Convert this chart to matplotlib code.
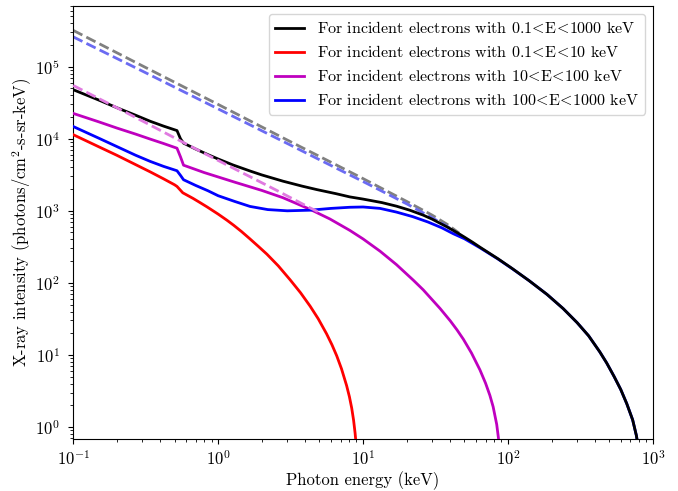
import matplotlib
matplotlib.use("Agg")
import matplotlib.pyplot as plt

# LaTeX-like look
plt.rcParams["font.family"] = ["cmr10", "DejaVu Serif"]
plt.rcParams["mathtext.fontset"] = "cm"
plt.rcParams["axes.formatter.use_mathtext"] = True

# Solid curves: (photon energy keV, intensity)
black_x = [0.1, 0.15, 0.2, 0.27, 0.34, 0.42, 0.52, 0.55, 0.577, 0.7, 0.85, 1.0, 1.27, 1.66,
           2.0, 2.8, 3.8, 4.8, 6.5, 8.1, 10, 13.5, 17, 21, 26, 30, 38, 45, 50, 57,
           64, 85, 107, 140, 186, 240, 300, 360, 430, 480, 540, 600, 660, 725, 770, 800, 815]
black_y = [4.8e4, 3.45e4, 2.7e4, 2.12e4, 1.75e4, 1.5e4, 1.3e4, 1.0e4, 8.7e3, 7.2e3, 6.03e3,
           5.24e3, 4.32e3, 3.57e3, 3.15e3, 2.58e3, 2.2e3, 1.97e3, 1.73e3, 1.56e3, 1.455e3,
           1.3e3, 1.16e3, 1.02e3, 871, 766, 597, 492, 432, 366,
           313, 217, 158, 107, 69, 44, 28, 18.4, 11, 7.7, 5.0, 3.3, 2.1, 1.25, 0.75, 0.45, 0.3]

red_x = [0.1, 0.15, 0.2, 0.27, 0.34, 0.42, 0.5, 0.52, 0.57, 0.67, 0.75, 0.84, 1.0, 1.15,
         1.28, 1.45, 1.65, 1.9, 2.17, 2.6, 3.14, 3.7, 4.31, 4.9, 5.6, 6.1, 6.58, 7.1, 7.7,
         8.05, 8.35, 8.6, 8.81, 8.95, 9.05]
red_y = [1.14e4, 7.75e3, 5.9e3, 4.37e3, 3.47e3, 2.78e3, 2.3e3, 2.18e3, 1.78e3, 1.49e3, 1.3e3,
         1.13e3, 900, 740, 630, 515, 411, 319, 250, 172, 110, 73, 47.5, 31.8, 19.6, 13.8,
         9.7, 6.4, 3.74, 2.62, 1.82, 1.24, 0.82, 0.58, 0.43]

mag_x = [0.1, 0.15, 0.2, 0.27, 0.34, 0.42, 0.52, 0.55, 0.577, 0.8, 1.3, 2.0, 2.8, 4.3,
         5.9, 8.1, 10, 13.1, 17, 22.2, 26, 34, 40, 44.5, 49.2, 56, 64, 70, 75, 79, 83.6,
         86, 87]
mag_y = [2.25e4, 1.72e4, 1.41e4, 1.16e4, 9.9e3, 8.6e3, 7.4e3, 5.6e3, 4.3e3, 3.4e3, 2.5e3,
         1.92e3, 1.52e3, 1.05e3, 771, 535, 407, 275, 179, 109, 80, 44, 29.6, 22.2, 16.5,
         10.6, 6.2, 4.05, 2.74, 1.9, 1.08, 0.69, 0.54]

blue_x = [0.1, 0.15, 0.2, 0.27, 0.34, 0.42, 0.52, 0.55, 0.577, 0.7, 0.85, 1.0, 1.3, 1.66,
          2.2, 3.0, 4.3, 6.0, 8.1, 10, 13.1, 17, 22, 28, 35, 42, 50,
          64, 85, 107, 140, 186, 240, 300, 360, 430, 480, 540, 600, 660, 725, 770, 800, 815]
blue_y = [1.48e4, 1.02e4, 7.8e3, 5.9e3, 4.85e3, 4.14e3, 3.6e3, 3.1e3, 2.7e3, 2.25e3, 1.9e3,
          1.62e3, 1.35e3, 1.15e3, 1.04e3, 1.0e3, 1.02e3, 1.08e3, 1.12e3, 1.13e3, 1.08e3,
          960, 830, 700, 580, 480, 410,
          307, 215, 157, 107, 69, 44, 28, 18.4, 11, 7.7, 5.0, 3.3, 2.1, 1.25, 0.75, 0.45, 0.3]

# Dashed reference curves
gray_dx = [0.1, 0.3, 1.0, 3.0, 6.9, 10, 20, 30, 38, 46]
gray_dy = [3.2e5, 1.03e5, 3.0e4, 9.6e3, 4.1e3, 2.8e3, 1.35e3, 870, 650, 490]

bdash_x = [0.1, 0.3, 1.0, 3.0, 6.9, 10, 20, 30, 38, 46]
bdash_y = [2.6e5, 8.7e4, 2.6e4, 8.6e3, 3.7e3, 2.55e3, 1.25e3, 800, 610, 470]

vdash_x = [0.1, 0.2, 0.34, 0.6, 1.0, 1.5, 2.5, 4.3, 5.0]
vdash_y = [5.5e4, 2.7e4, 1.55e4, 8.5e3, 5.0e3, 3.3e3, 1.95e3, 1.1e3, 950]

labels = [r"For incident electrons with 0.1$\!<\!$E$\!<\!$1000 keV",
          r"For incident electrons with 0.1$\!<\!$E$\!<\!$10 keV",
          r"For incident electrons with 10$\!<\!$E$\!<\!$100 keV",
          r"For incident electrons with 100$\!<\!$E$\!<\!$1000 keV"]

fig = plt.figure(figsize=(6.78, 4.91), dpi=100)
ax = fig.add_axes([0.108, 0.106, 0.855, 0.882])

ax.plot(black_x, black_y, color="black", lw=2, label=labels[0], zorder=4)
ax.plot(red_x, red_y, color="red", lw=2, label=labels[1], zorder=3)
ax.plot(mag_x, mag_y, color="m", lw=2, label=labels[2], zorder=3)
ax.plot(blue_x, blue_y, color="blue", lw=2, label=labels[3], zorder=3)

ax.plot(gray_dx, gray_dy, "--", color="gray", lw=2, zorder=2)
ax.plot(bdash_x, bdash_y, "--", color="#6b6bf2", lw=2, zorder=2)
ax.plot(vdash_x, vdash_y, "--", color="#e07ae0", lw=2, zorder=5)

ax.set_xscale("log")
ax.set_yscale("log")
ax.set_xlim(0.1, 1000)
ax.set_ylim(0.68, 7e5)

ax.set_xlabel("Photon energy (keV)", fontsize=12, labelpad=3)
ax.set_ylabel("X-ray intensity (photons/cm$^2$-s-sr-keV)", fontsize=12, labelpad=1)
ax.tick_params(labelsize=12)
ax.tick_params(axis="y", pad=6)

ax.legend(loc="upper right", fontsize=11.5, handlelength=1.8)

fig.savefig("out.png", dpi=100)
